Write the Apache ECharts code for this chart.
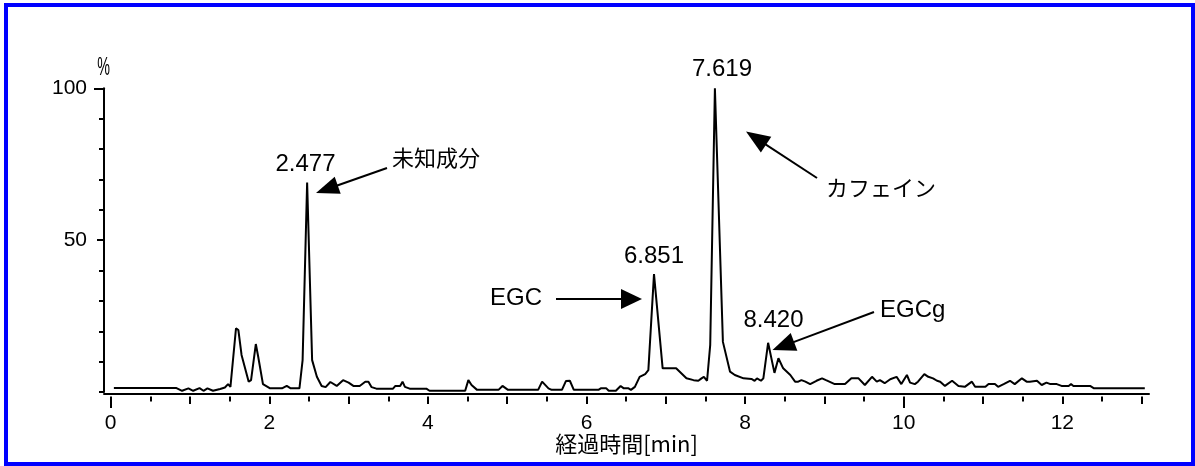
<!DOCTYPE html>
<html>
<head>
<meta charset="utf-8">
<script src="https://cdn.jsdelivr.net/npm/echarts@6/dist/echarts.min.js"></script>
<style>
html,body{margin:0;padding:0;background:#fff;}
#chart{width:1195px;height:466px;}
</style>
</head>
<body>
<div id="chart"></div>
<script>
// ---- data (retention time [min], relative intensity [%]) ----
const times = [0.04,0.83,0.90,0.98,1.04,1.12,1.17,1.22,1.29,1.38,1.44,1.48,1.51,1.58,1.61,1.65,1.74,1.77,1.83,1.86,1.92,2.01,2.16,2.22,2.27,2.38,2.42,2.477,2.54,2.60,2.66,2.71,2.77,2.85,2.93,3.00,3.06,3.14,3.21,3.25,3.29,3.35,3.56,3.59,3.65,3.68,3.71,3.77,3.98,4.02,4.47,4.51,4.55,4.62,4.89,4.94,5.01,5.39,5.44,5.52,5.56,5.69,5.74,5.79,5.84,6.15,6.18,6.25,6.28,6.37,6.43,6.47,6.53,6.56,6.61,6.67,6.74,6.78,6.851,6.96,6.99,7.13,7.26,7.35,7.41,7.45,7.48,7.52,7.56,7.619,7.72,7.81,7.87,7.98,8.08,8.12,8.15,8.20,8.23,8.29,8.37,8.42,8.48,8.57,8.63,8.67,8.71,8.76,8.82,8.90,8.97,9.02,9.04,9.13,9.26,9.34,9.43,9.51,9.60,9.66,9.70,9.76,9.83,9.91,9.97,10.04,10.08,10.14,10.18,10.26,10.31,10.37,10.42,10.46,10.52,10.61,10.69,10.77,10.86,10.90,11.03,11.07,11.15,11.19,11.26,11.34,11.40,11.49,11.55,11.59,11.68,11.74,11.80,11.85,11.93,11.99,12.08,12.11,12.14,12.35,12.40,12.96,12.98,13.04];
const intensity = [1.3,1.3,0.4,1.2,0.4,1.3,0.4,1.2,0.4,1.0,1.5,2.6,1.7,21.0,20.4,12.2,3.4,3.9,15.8,11.6,2.6,1.2,1.2,2.0,1.2,1.2,10.5,69,10.5,5.0,2.0,1.6,3.3,2.0,3.9,3.1,2.0,2.0,3.4,3.4,1.6,1.1,1.1,2.0,2.0,3.4,1.7,1.1,1.1,0.4,0.4,3.9,2.3,0.7,0.7,2.0,0.7,0.7,3.4,1.2,0.7,0.7,3.6,3.7,0.7,0.7,1.2,1.2,0.4,0.4,2.0,1.2,1.2,0.7,1.7,5.0,5.9,7.2,38.8,7.8,7.8,7.8,4.5,3.9,3.7,4.5,5.0,3.7,15.5,100,16.5,6.7,5.6,4.5,4.3,3.7,4.5,3.7,4.5,16.2,6.3,11.1,7.8,5.6,3.4,3.4,3.9,3.4,2.6,3.7,4.5,3.9,4.5,2.6,2.6,4.5,4.5,2.3,5.0,3.4,3.9,2.9,4.2,5.0,2.6,5.6,3.1,2.6,3.4,5.9,5.0,4.5,3.7,3.4,2.0,3.7,2.0,1.7,3.4,1.7,1.7,2.6,2.6,1.7,2.6,3.7,2.6,4.5,3.4,3.4,3.7,2.3,3.1,2.6,2.6,2.0,2.0,2.6,2.0,2.0,1.2,1.2,1.0,1.2];

const xLabelValues = [0,2,4,6,8,10,12];
const xHalfTicks = [0,0.5,1,1.5,2,2.5,3,3.5,4,4.5,5,5.5,6,6.5,7,7.5,8,8.5,9,9.5,10,10.5,11,11.5,12,12.5,13];
const xIntTicks = [0,1,2,3,4,5,6,7,8,9,10,11,12,13];
const xLongTicks = [0,10];
const yLabelValues = [50,100];

const peakLabels = ['2.477','6.851','7.619','8.420'];
const compoundNames = ['未知成分','EGC','カフェイン','EGCg'];
const xAxisTitle = '経過時間[min]';
const yUnit = '%';

// ---- layout ----
const XMIN = -0.0845, XMAX = 13.093;
const LAT = "Liberation Sans";
const JP = "Noto Sans CJK JP";

function arrow(x1, y1, x2, y2, L, W) {
  const dx = x2 - x1, dy = y2 - y1, len = Math.sqrt(dx*dx + dy*dy);
  const ux = dx/len, uy = dy/len;
  const bx = x2 - ux*L, by = y2 - uy*L;
  const px = -uy, py = ux;
  return [
    {type:'line', shape:{x1:x1, y1:y1, x2:bx + ux*2, y2:by + uy*2}, style:{stroke:'#000', lineWidth:2}},
    {type:'polygon', shape:{points:[[x2,y2],[bx+px*W/2, by+py*W/2],[bx-px*W/2, by-py*W/2]]}, style:{fill:'#000'}}
  ];
}
function txt(x, y, s, size, family, align) {
  return {type:'text', x:x, y:y, style:{text:s, fontSize:size, fontFamily:family, fill:'#000', align:align||'center', verticalAlign:'middle'}};
}

const chart = echarts.init(document.getElementById('chart'), null, {renderer:'canvas'});

const baseX = {type:'value', min:XMIN, max:XMAX, position:'bottom', splitLine:{show:false}};
const baseY = {type:'value', min:0, max:100, interval:10, position:'left', splitLine:{show:false}};

const graphics = [
  {type:'rect', shape:{x:6, y:5, width:1187, height:459}, style:{fill:null, stroke:'#0000ff', lineWidth:4}},
  {type:'text', x:103.5, y:68, scaleX:0.55, style:{text:yUnit, fontSize:26, fontFamily:LAT, fill:'#000', align:'center', verticalAlign:'middle'}},
  txt(305.5, 164, peakLabels[0], 24, LAT),
  txt(654, 256.5, peakLabels[1], 24, LAT),
  txt(722, 69, peakLabels[2], 24, LAT),
  txt(773.5, 320.5, peakLabels[3], 24, LAT),
  txt(392, 158, compoundNames[0], 22, JP, 'left'),
  txt(490, 298, compoundNames[1], 24, LAT, 'left'),
  txt(826, 188, compoundNames[2], 22, JP, 'left'),
  txt(880, 310, compoundNames[3], 24, LAT, 'left')
]
.concat(arrow(387, 168, 316, 193, 23, 18))
.concat(arrow(556, 299, 642, 299, 21, 20))
.concat(arrow(817, 178, 746, 131.5, 24, 19))
.concat(arrow(874, 312, 772.5, 350, 23, 19));

chart.setOption({
  animation:false,
  backgroundColor:'#fff',
  textStyle:{fontFamily:LAT},
  grid:{left:104, right:46, top:88.3, bottom:74, containLabel:false},
  xAxis:[
    Object.assign({}, baseX, {
      offset:1.5,
      axisLine:{show:true, onZero:false, lineStyle:{color:'#000', width:2}},
      axisTick:{show:false},
      axisLabel:{show:true, customValues:xLabelValues, margin:19, color:'#000', fontSize:21, fontFamily:LAT},
      name:xAxisTitle, nameLocation:'middle', nameGap:39, nameMoveOverlap:false,
      nameTextStyle:{color:'#000', fontSize:22, fontFamily:JP}
    }),
    Object.assign({}, baseX, {offset:4.5, axisLine:{show:false, onZero:false}, axisLabel:{show:false},
      axisTick:{show:true, customValues:xHalfTicks, length:5, lineStyle:{color:'#000', width:2}}}),
    Object.assign({}, baseX, {offset:4.5, axisLine:{show:false, onZero:false}, axisLabel:{show:false},
      axisTick:{show:true, customValues:xIntTicks, length:7.5, lineStyle:{color:'#000', width:2}}}),
    Object.assign({}, baseX, {offset:4.5, axisLine:{show:false, onZero:false}, axisLabel:{show:false},
      axisTick:{show:true, customValues:xLongTicks, length:11.5, lineStyle:{color:'#000', width:2}}})
  ],
  yAxis:[
    Object.assign({}, baseY, {
      axisLine:{show:true, onZero:false, lineStyle:{color:'#000', width:2}},
      axisTick:{show:true, length:5, lineStyle:{color:'#000', width:2}},
      axisLabel:{show:true, customValues:yLabelValues, margin:17, color:'#000', fontSize:21, fontFamily:LAT}
    }),
    Object.assign({}, baseY, {axisLine:{show:false, onZero:false}, axisLabel:{show:false},
      axisTick:{show:true, customValues:[50], length:7, lineStyle:{color:'#000', width:2}}}),
    Object.assign({}, baseY, {axisLine:{show:false, onZero:false}, axisLabel:{show:false},
      axisTick:{show:true, customValues:[100], length:10, lineStyle:{color:'#000', width:2}}})
  ],
  series:[{
    type:'line',
    xAxisIndex:0, yAxisIndex:0,
    data: times.map((t, i) => [t, intensity[i]]),
    showSymbol:false, symbol:'none',
    lineStyle:{color:'#000', width:2},
    clip:false
  }],
  graphic: graphics
});
</script>
</body>
</html>
